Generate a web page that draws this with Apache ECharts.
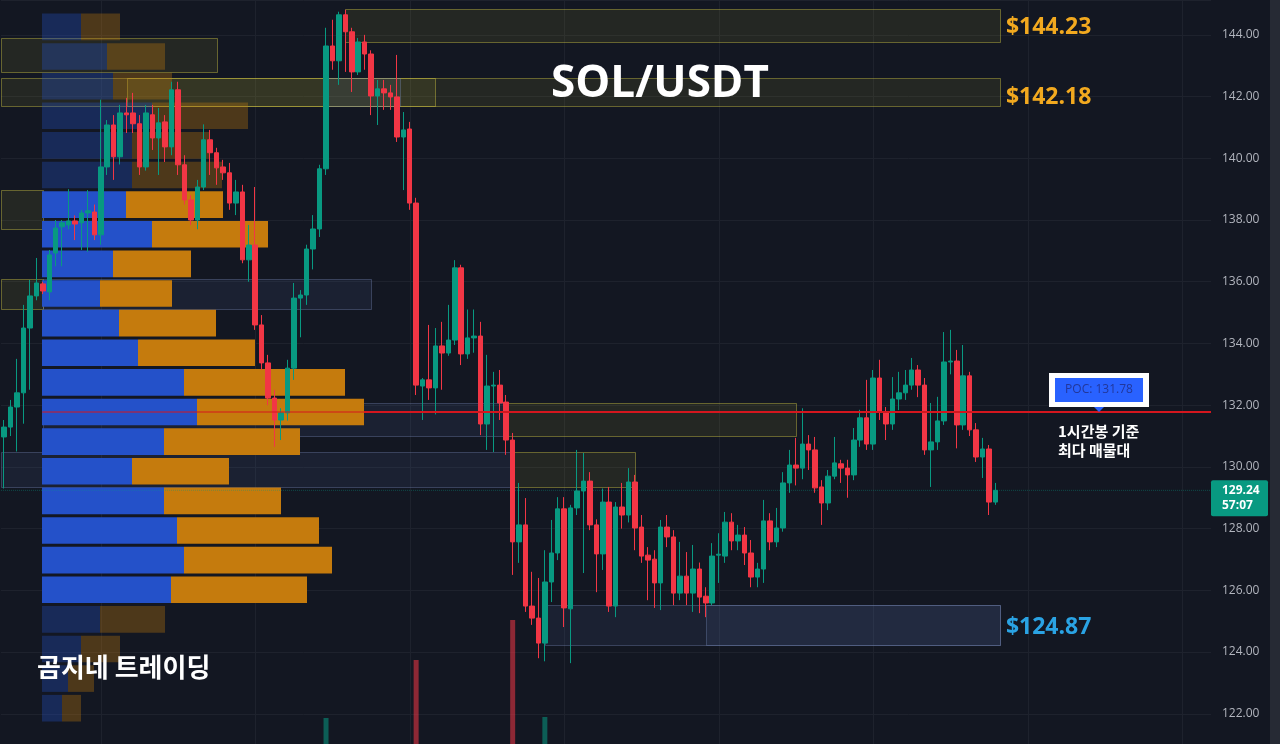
<!DOCTYPE html>
<html><head><meta charset="utf-8">
<script src="https://cdn.jsdelivr.net/npm/echarts@6/dist/echarts.min.js"></script>
<style>html,body{margin:0;padding:0;background:#131722;}#c{width:1280px;height:744px;}</style>
</head><body><div id="c"></div>
<script>
// ---------------- DATA ----------------
// 1h candles [open, close, low, high]
const candles = [
[130.97,131.29,129.3,131.52],[131.29,131.94,131.0,132.17],[131.94,132.40,130.5,133.5],[132.40,134.50,131.4,135.25],
[134.50,135.54,132.5,136.06],[135.54,135.96,135.4,136.77],[135.93,135.70,135.6,136.0],[135.67,136.87,135.4,137.03],
[136.93,137.74,136.5,138.0],[137.78,137.91,136.5,138.0],[137.84,137.97,137.7,139.0],[137.97,137.87,137.35,138.15],
[137.91,138.23,137.03,138.33],[138.23,138.30,136.97,138.97],[138.26,137.52,137.35,138.5],[137.52,139.72,137.2,141.9],
[139.72,141.08,139.46,141.24],[141.08,140.05,139.3,141.4],[140.05,141.47,139.8,141.73],[141.47,141.41,140.82,141.96],
[141.47,141.12,140.82,142.12],[141.12,139.72,139.46,141.4],[139.72,141.47,139.6,141.73],[141.41,140.66,140.27,141.73],
[140.66,141.15,139.46,141.63],[141.18,140.37,139.88,141.4],[140.37,142.22,140.1,142.48],[142.22,139.79,139.46,142.48],
[139.79,138.65,138.5,140.1],[138.65,138.00,137.84,138.8],[138.00,139.07,137.7,139.3],[139.07,140.60,138.97,141.1],
[140.60,140.18,139.46,140.92],[140.18,139.69,139.14,140.34],[139.72,139.53,139.3,139.95],[139.53,138.55,138.33,139.85],
[138.55,138.91,138.16,139.3],[138.91,136.71,136.6,139.14],[136.71,137.19,136.0,137.84],[137.19,134.60,134.44,139.07],
[134.60,133.37,133.14,134.92],[133.37,132.23,132.0,133.63],[132.23,131.52,130.65,132.5],[131.52,131.75,130.87,131.9],
[131.75,133.20,131.5,133.47],[133.20,135.47,132.82,135.96],[135.47,135.57,134.2,135.73],[135.57,137.06,135.25,137.2],
[137.06,137.71,136.4,138.16],[137.71,139.66,137.45,139.79],[139.66,143.64,139.46,144.23],[143.64,143.16,142.87,144.49],
[143.16,144.65,142.38,144.75],[144.65,144.10,142.8,144.81],[144.10,142.80,142.15,144.23],[142.80,143.77,142.7,143.9],
[143.77,143.38,142.87,144.0],[143.38,142.02,141.4,143.5],[142.02,142.25,141.08,142.54],[142.25,142.12,141.57,142.54],
[142.12,141.99,141.57,142.38],[141.99,140.69,140.53,143.35],[140.69,140.92,138.97,141.5],[140.95,138.55,138.33,141.18],
[138.55,132.65,132.33,138.72],[132.62,132.82,131.52,132.88],[132.82,132.56,132.17,134.6],[132.56,133.92,131.7,134.5],
[133.92,133.69,132.5,134.7],[133.69,134.11,133.6,135.25],[134.11,136.45,133.95,136.7],[136.45,133.66,133.3,136.55],
[133.66,134.18,133.5,135.1],[134.18,134.24,133.7,135.1],[134.24,131.39,131.03,134.7],[131.39,132.62,130.55,133.63],
[132.62,132.65,130.48,133.08],[132.65,132.07,131.52,133.14],[132.10,130.87,130.39,132.33],[130.87,127.57,126.5,131.1],
[127.57,128.12,126.89,129.48],[128.12,125.49,125.3,128.99],[125.49,125.10,124.88,126.6],[125.10,124.29,123.8,126.4],
[124.29,126.27,123.7,127.3],[126.27,127.21,125.62,128.28],[127.21,128.64,126.98,129.02],[128.64,125.43,124.81,129.02],
[125.40,128.67,123.64,128.77],[128.67,129.22,128.44,130.55],[129.22,129.54,126.56,130.45],[129.54,128.12,127.95,129.83],
[128.12,127.18,125.94,128.3],[127.18,128.86,126.66,129.3],[128.86,125.49,125.3,129.35],[125.49,128.70,125.13,128.86],
[128.70,128.44,128.0,129.48],[128.44,129.51,128.2,129.96],[129.51,128.02,127.3,129.74],[128.05,127.11,126.89,128.44],
[127.14,126.98,125.68,127.4],[127.01,126.24,125.43,127.3],[126.24,128.05,125.36,128.28],[128.05,127.73,127.4,128.44],
[127.73,125.91,125.52,127.95],[125.91,126.46,125.68,127.57],[126.46,125.91,125.52,127.24],[125.91,126.69,125.3,127.47],
[126.69,125.78,125.26,126.9],[125.81,125.59,125.13,126.1],[125.59,127.11,125.52,127.53],[127.14,127.17,126.24,127.85],
[127.11,128.21,126.89,128.54],[128.21,127.60,127.3,128.5],[127.60,127.79,127.3,128.12],[127.79,127.21,126.82,128.05],
[127.21,126.43,126.1,127.63],[126.43,126.69,126.1,126.89],[126.69,128.25,126.24,128.93],[128.25,127.57,127.3,128.5],
[127.57,128.02,127.4,128.67],[128.02,129.48,127.9,129.83],[129.48,130.06,129.16,130.55],[130.06,129.96,129.4,130.94],
[129.96,130.74,129.6,131.9],[130.74,130.55,129.9,131.03],[130.55,129.32,129.16,130.97],[129.35,128.83,128.12,129.57],
[128.83,129.70,128.6,129.9],[129.70,130.13,129.6,130.97],[130.10,129.96,129.48,130.23],[129.96,129.74,129.0,130.23],
[129.74,130.87,129.57,131.26],[130.87,131.59,130.65,131.85],[131.59,130.74,130.55,132.82],[130.74,132.88,130.55,133.14],
[132.88,131.78,131.52,133.47],[131.78,131.39,130.87,131.94],[131.39,132.20,131.2,132.91],[132.20,132.40,131.84,133.08],
[132.40,132.65,132.17,133.14],[132.65,133.14,132.5,133.53],[133.14,132.65,132.26,133.3],[132.65,130.55,130.39,132.88],
[130.55,130.81,129.35,132.07],[130.81,131.49,130.55,132.27],[131.49,133.40,131.36,134.37],[133.40,133.43,133.0,134.44],
[133.43,131.36,130.6,133.79],[131.36,132.95,131.2,133.95],[132.95,131.20,131.0,133.08],[131.20,130.32,130.16,131.42],
[130.32,130.58,129.64,130.94],[130.58,128.86,128.44,130.71],[128.86,129.24,128.77,129.48]
];
const futureSlots = 33;                 // empty bars to the right of the last candle
// volume bars that rise into view at the bottom edge [barIndex, volume(K)]
const volumeSpikes = [[50, 530], [64, 820], [79, 1020], [84, 535]];
// visible-range volume profile (price level of each row, buy and sell volume)
const profileLevels = [144.26,143.30,142.34,141.38,140.42,139.46,138.50,137.54,136.58,135.62,134.66,133.70,
                       132.74,131.78,130.82,129.86,128.90,127.94,126.98,126.02,125.06,124.10,123.14,122.18];
const profileBuy  = [780,1300,1420,2200,1800,1800,1680,2200,1420,1160,1540,1920,2840,3100,2440,1800,2440,2700,2840,2580,1160,780,520,400];
const profileSell = [780,1160,1180,1920,1560,1800,1940,2320,1560,1440,1940,2340,3220,3340,2720,1940,2340,2840,2960,2720,1300,780,520,380];
const valueArea = [6, 19];              // first / last row inside the value area
const poc = 131.78;
const lastPrice = 129.24;
const countdown = '57:07';
// zones [fromBar, toBar, topPrice, bottomPrice, kind 0=supply(yellow) 1=demand(blue)]
const zones = [
  [53, 154.7, 144.83, 143.76, 0], [-0.5, 33, 143.90, 142.80, 0], [-0.5, 67, 142.61, 141.70, 0],
  [19, 154.7, 142.61, 141.70, 0], [-0.5, 6, 138.98, 137.71, 0], [-0.5, 6, 136.09, 135.12, 0],
  [78, 123, 132.07, 131.00, 0], [79, 98, 130.48, 129.35, 0],
  [6, 57, 136.09, 135.12, 1], [6, 78, 132.07, 131.00, 1], [-0.5, 79, 130.48, 129.35, 1],
  [84, 154.7, 125.52, 124.23, 1], [109, 154.7, 125.52, 124.23, 1], [50, 61.5, 142.61, 141.70, 1]
];
// level labels: text, price level where the label sits, kind
const levelLabels = [
  { at: 144.23, text: '$144.23', kind: 0 },
  { at: 141.98, text: '$142.18', kind: 0 },
  { at: 124.80, text: '$124.87', kind: 1 }
];
const sessionBreaks = [15, 39, 63, 87, 111, 135, 159, 183];
const title = 'SOL/USDT';
const watermark = '곰지네 트레이딩';
const pocNote = ['1시간봉 기준', '최다 매물대'];

// ---------------- CHART ----------------
(function () {
const UP = '#089981', DOWN = '#f23645';
const categories = [];
for (let i = 0; i < candles.length + futureSlots; i++) categories.push(String(i));
const BIN = profileLevels[0] - profileLevels[1];
const PMIN = 121.02, PMAX = 145.13;

const chart = echarts.init(document.getElementById('c'), null, { renderer: 'canvas' });
const option = {
  backgroundColor: '#131722',
  animation: false,
  textStyle: { fontFamily: 'Open Sans, Noto Sans, sans-serif' },
  grid: [
    { left: 1, right: 69, top: 0, bottom: 0 },
    { left: 42, right: 69, top: 0, bottom: 0 }
  ],
  xAxis: [
    { type: 'category', data: categories, boundaryGap: true, show: false, gridIndex: 0 },
    { type: 'value', min: -0.5, max: categories.length - 0.5, show: false, gridIndex: 0 },
    { type: 'value', min: 0, max: 23380, show: false, gridIndex: 1 }
  ],
  yAxis: [
    { type: 'value', position: 'right', min: PMIN, max: PMAX, splitNumber: 12, minInterval: 2, maxInterval: 2,
      gridIndex: 0, axisLine: { show: false }, axisTick: { show: false },
      axisLabel: { color: '#b2b5be', fontSize: 12, margin: 11, showMinLabel: false, showMaxLabel: false,
        formatter: v => (Math.abs(v / 2 - Math.round(v / 2)) < 1e-6 ? v.toFixed(2) : '') },
      splitLine: { show: true, lineStyle: { color: '#1e222d', width: 1 } } },
    { type: 'value', min: 400, max: 4120, show: false, gridIndex: 0 },
    { type: 'value', min: PMIN, max: PMAX, show: false, gridIndex: 1 }
  ],
  series: [
    { // vertical session lines
      type: 'custom', xAxisIndex: 1, yAxisIndex: 0, z: 0, clip: true, silent: true,
      data: sessionBreaks.map(i => [i]),
      renderItem: (params, api) => {
        const a = api.coord([api.value(0), PMAX]);
        const b = api.coord([api.value(0), PMIN]);
        const x = Math.round(a[0]) + 0.5;
        return { type: 'line', shape: { x1: x, y1: a[1], x2: x, y2: b[1] }, style: { stroke: '#1e222d', lineWidth: 1 } };
      }
    },
    { // zones
      type: 'custom', xAxisIndex: 1, yAxisIndex: 0, z: 1, clip: true, silent: true,
      data: zones,
      renderItem: (params, api) => {
        const a = api.coord([api.value(0), api.value(2)]);
        const b = api.coord([api.value(1), api.value(3)]);
        const kind = api.value(4);
        return { type: 'rect',
          shape: { x: Math.round(a[0]) + 0.5, y: Math.round(a[1]) + 0.5, width: Math.round(b[0] - a[0]), height: Math.round(b[1] - a[1]) },
          style: kind === 0
            ? { fill: 'rgba(255,235,59,0.075)', stroke: 'rgba(230,215,70,0.38)', lineWidth: 1 }
            : { fill: 'rgba(100,130,200,0.10)', stroke: 'rgba(120,140,185,0.35)', lineWidth: 1 } };
      }
    },
    { // volume profile
      type: 'custom', xAxisIndex: 2, yAxisIndex: 2, z: 2, silent: true, clip: true,
      data: profileLevels.map((p, i) => [p, profileBuy[i], profileSell[i]]),
      renderItem: (params, api) => {
        const i = params.dataIndex;
        const inVA = i >= valueArea[0] && i <= valueArea[1];
        const price = api.value(0), buy = api.value(1), sell = api.value(2);
        const c = api.coord([0, price]);
        const h = api.size([0, BIN])[1] - 3;
        const xb = api.coord([buy, price])[0];
        const xs = api.coord([buy + sell, price])[0];
        return { type: 'group', children: [
          { type: 'rect', shape: { x: c[0], y: c[1] - h / 2, width: xb - c[0], height: h },
            style: { fill: inVA ? '#2451c9' : 'rgba(36,81,201,0.33)' } },
          { type: 'rect', shape: { x: xb, y: c[1] - h / 2, width: xs - xb, height: h },
            style: { fill: inVA ? '#c57b0d' : 'rgba(197,123,13,0.33)' } }
        ] };
      }
    },
    { // last price dotted line
      type: 'line', xAxisIndex: 1, yAxisIndex: 0, z: 2, silent: true, showSymbol: false,
      data: [[-0.5, lastPrice], [categories.length - 0.5, lastPrice]],
      lineStyle: { color: 'rgba(8,153,129,0.4)', width: 1, type: 'dotted' }
    },
    { // volume
      type: 'bar', xAxisIndex: 0, yAxisIndex: 1, z: 2, barWidth: 5, silent: true,
      data: volumeSpikes,
      itemStyle: { color: p => { const k = candles[p.value[0]]; return k[1] >= k[0] ? 'rgba(8,153,129,0.55)' : 'rgba(242,54,69,0.55)'; } }
    },
    {
      type: 'candlestick', xAxisIndex: 0, yAxisIndex: 0, z: 3, barWidth: 5,
      data: candles,
      itemStyle: { color: UP, color0: DOWN, borderColor: UP, borderColor0: DOWN, borderWidth: 1 }
    },
    { // POC line inside the profile (translucent)
      type: 'line', xAxisIndex: 1, yAxisIndex: 0, z: 4, silent: true, showSymbol: false,
      data: [[5.9, poc], [55.9, poc]],
      lineStyle: { color: 'rgba(214,22,30,0.5)', width: 2 }
    },
    { // POC line
      type: 'line', xAxisIndex: 1, yAxisIndex: 0, z: 4, silent: true, showSymbol: false,
      data: [[55.9, poc], [categories.length - 0.5, poc]],
      lineStyle: { color: '#d4161e', width: 2 }
    }
  ]
};
chart.setOption(option);

// ---------------- ANNOTATIONS ----------------
const X = v => chart.convertToPixel({ xAxisIndex: 1 }, v);
const Y = p => chart.convertToPixel({ yAxisIndex: 0 }, p);
const gridRight = 1280 - 69;
const zoneEndX = X(154.7);
const g = [];
g.push({ type: 'rect', shape: { x: 1270, y: 0, width: 10, height: 744 }, style: { fill: '#262a34' }, z: 10 });
g.push({ type: 'text', x: 660, y: 84, z: 10, style: { text: title, fill: '#ffffff', font: 'bold 44px "Open Sans", "Noto Sans", sans-serif', align: 'center', verticalAlign: 'middle' } });
g.push({ type: 'text', x: 37, y: 667, z: 10, style: { text: watermark, fill: '#ffffff', font: 'bold 26px "Noto Sans CJK KR", sans-serif', align: 'left', verticalAlign: 'middle' } });
levelLabels.forEach(l => {
  g.push({ type: 'text', x: zoneEndX + 6, y: Y(l.at), z: 10,
    style: { text: l.text, fill: l.kind === 0 ? '#f2a91f' : '#2aa3e4', font: 'bold 23px "Open Sans", "Noto Sans", sans-serif', align: 'left', verticalAlign: 'middle' } });
});
const py = Y(poc), cx = X(170.1);
const boxTop = py - 39;
g.push({ type: 'rect', z: 10, shape: { x: cx - 50, y: boxTop, width: 100, height: 34 }, style: { fill: '#ffffff' } });
g.push({ type: 'rect', z: 11, shape: { x: cx - 44, y: boxTop + 5, width: 88, height: 24 }, style: { fill: '#2962ff' } });
g.push({ type: 'polygon', z: 11, shape: { points: [[cx - 5, boxTop + 34], [cx + 5, boxTop + 34], [cx, py]] }, style: { fill: '#2962ff' } });
g.push({ type: 'text', z: 12, x: cx, y: boxTop + 17, style: { text: 'POC: ' + poc.toFixed(2), fill: '#22379a', font: '12px "Open Sans", sans-serif', align: 'center', verticalAlign: 'middle' } });
pocNote.forEach((t, i) => {
  g.push({ type: 'text', z: 10, x: cx - 41, y: py + 19 + i * 19, style: { text: t, fill: '#ffffff', font: 'bold 15px "Noto Sans CJK KR", sans-serif', align: 'left', verticalAlign: 'middle' } });
});
const ly = Y(lastPrice);
g.push({ type: 'rect', z: 10, shape: { x: gridRight, y: ly - 10, width: 57, height: 36, r: 2 }, style: { fill: UP } });
g.push({ type: 'text', z: 11, x: gridRight + 11, y: ly, style: { text: lastPrice.toFixed(2), fill: '#ffffff', font: 'bold 12px "Open Sans", sans-serif', align: 'left', verticalAlign: 'middle' } });
g.push({ type: 'text', z: 11, x: gridRight + 11, y: ly + 15, style: { text: countdown, fill: '#ffffff', font: 'bold 12px "Open Sans", sans-serif', align: 'left', verticalAlign: 'middle' } });
chart.setOption({ graphic: g });
})();
</script></body></html>
